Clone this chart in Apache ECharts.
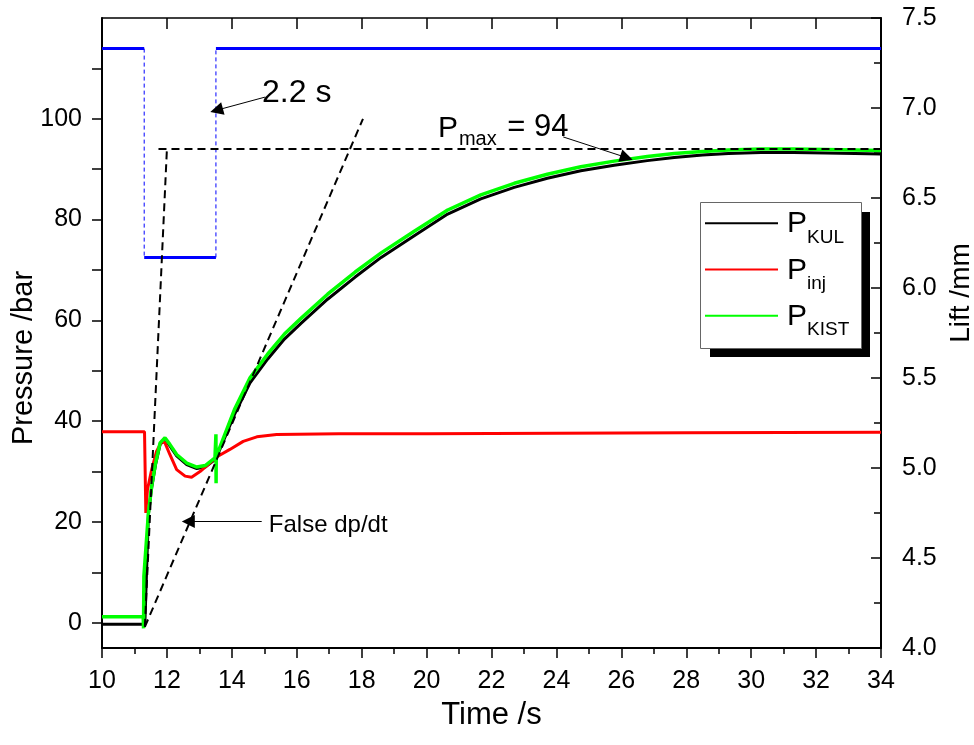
<!DOCTYPE html>
<html>
<head>
<meta charset="utf-8">
<script src="https://cdn.jsdelivr.net/npm/echarts@6/dist/echarts.min.js"></script>
<style>
  html, body { margin: 0; padding: 0; background: #fff; }
  #chart { width: 974px; height: 745px; }
</style>
</head>
<body>
<div id="chart"></div>
<script>
// Injector pressure traces: time in s, pressure in bar
const kulTime = [10, 11.32, 11.43, 11.53, 11.65, 11.79, 11.94, 12.09, 12.3, 12.61, 12.92, 13.18, 13.48, 13.56, 14.08, 14.56, 15.1, 15.62, 16.13, 16.95, 17.8, 18.6, 19.62, 20.65, 21.67, 22.7, 23.72, 24.75, 25.78, 26.8, 27.63, 28.5, 29.3, 30.3, 31.3, 32.3, 33.2, 34];
const kulP    = [-0.3, -0.3, 21.5, 26.8, 31.4, 35.4, 36.4, 35.1, 33.1, 31.4, 30.6, 30.9, 32.4, 33.3, 41.3, 47.6, 52.3, 56.3, 59.4, 64.2, 68.6, 72.5, 76.8, 81.1, 84.1, 86.4, 88.2, 89.7, 90.8, 91.7, 92.3, 92.8, 93.1, 93.3, 93.3, 93.2, 93.1, 93.0];

const injTime = [10, 11.31, 11.33, 11.35, 11.40, 11.53, 11.68, 11.84, 11.94, 12.09, 12.3, 12.56, 12.76, 13.02, 13.27, 13.53, 13.94, 14.35, 14.77, 15.38, 17.3, 20, 24, 28, 34];
const injP    = [37.9, 37.9, 30, 21.8, 26.4, 30.4, 34.0, 36.0, 35.7, 33.4, 30.4, 29.1, 28.9, 30.0, 31.4, 32.9, 34.4, 36.0, 36.9, 37.35, 37.5, 37.5, 37.6, 37.7, 37.8];

const kistTime = [10, 11.27, 11.28, 11.29, 11.43, 11.53, 11.65, 11.79, 11.94, 12.09, 12.3, 12.61, 12.92, 13.18, 13.48, 13.51, 13.515, 13.52, 13.6, 14.08, 14.56, 15.1, 15.62, 16.13, 16.95, 17.8, 18.6, 19.62, 20.65, 21.67, 22.7, 23.72, 24.75, 25.78, 26.8, 27.63, 28.5, 29.3, 30.3, 31.3, 32.3, 33.2, 34];
const kistP    = [1.2, 1.2, -1.1, 9.2, 21.8, 27.1, 31.7, 35.7, 36.7, 35.4, 33.4, 31.7, 30.9, 31.2, 32.7, 37.4, 27.7, 33.0, 34.3, 42.3, 48.6, 53.3, 57.3, 60.4, 65.2, 69.6, 73.4, 77.7, 81.9, 84.9, 87.2, 89.0, 90.5, 91.6, 92.5, 93.1, 93.5, 93.8, 94.0, 94.0, 93.9, 93.8, 93.7];

// Needle lift (mm) on the right axis
const liftTime = [10, 11.30, 11.30, 13.51, 13.51, 34];
const liftMm   = [7.33, 7.33, 6.17, 6.17, 7.33, 7.33];

// Construction lines (time, pressure)
const pmax = 94;
const pmaxLineTime = [11.74, 34];
const riseLineTime = [11.32, 12.0];
const riseLineP    = [-0.8, pmax];
const falseLineTime = [11.32, 18.04];
const falseLineP    = [-0.8, 100];

// Axis ticks
const timeTicks = [10, 12, 14, 16, 18, 20, 22, 24, 26, 28, 30, 32, 34];
const pressureLabels = [0, 20, 40, 60, 80, 100];
const pressureTicks = [0, 10, 20, 30, 40, 50, 60, 70, 80, 90, 100, 110];
const liftTicks = [4.0, 4.5, 5.0, 5.5, 6.0, 6.5, 7.0, 7.5];

const FONT = '"Liberation Sans", Arial, sans-serif';
const zip = (xs, ys) => xs.map((x, i) => [x, ys[i]]);

const chart = echarts.init(document.getElementById('chart'), null, { renderer: 'canvas' });

// Lift trace: steady segments solid, switching edges dashed
const liftSeries = [];
for (let i = 0; i < liftTime.length - 1; i++) {
  const level = liftMm[i] === liftMm[i + 1];
  liftSeries.push({
    type: 'line',
    xAxisIndex: 0,
    yAxisIndex: 1,
    data: [[liftTime[i], liftMm[i]], [liftTime[i + 1], liftMm[i + 1]]],
    showSymbol: false,
    symbol: 'none',
    silent: true,
    z: 2,
    lineStyle: level
      ? { color: '#0000ff', width: 3 }
      : { color: '#0000ff', width: 1, type: [4, 3] }
  });
}

const guide = (data) => ({
  type: 'line',
  xAxisIndex: 0,
  yAxisIndex: 0,
  data,
  showSymbol: false,
  symbol: 'none',
  silent: true,
  z: 5,
  lineStyle: { color: '#000', width: 2, type: [8, 5] }
});

const arrowEnd = { symbol: 'triangle', symbolSize: 13 };

const option = {
  animation: false,
  backgroundColor: '#fff',
  textStyle: { fontFamily: FONT, color: '#000' },
  grid: { left: 102, right: 93, top: 18, bottom: 97, containLabel: false, outerBoundsMode: 'none' },
  xAxis: [
    {
      type: 'value',
      min: 10, max: 34, interval: 2,
      name: 'Time /s',
      nameLocation: 'middle',
      nameGap: 52,
      nameTextStyle: { fontSize: 31, fontFamily: FONT, color: '#000' },
      axisLine: { show: true, onZero: false, lineStyle: { color: '#000', width: 2 } },
      axisTick: { show: true, inside: false, length: 10, lineStyle: { color: '#000', width: 1.5 }, customValues: timeTicks },
      minorTick: { show: true, splitNumber: 2, length: 6, lineStyle: { color: '#000', width: 1.5 } },
      axisLabel: { fontSize: 25, fontFamily: FONT, color: '#000', margin: 21, customValues: timeTicks },
      splitLine: { show: false }
    },
    {
      type: 'value',
      position: 'top',
      min: 10, max: 34, interval: 2,
      axisLine: { show: true, onZero: false, lineStyle: { color: '#000', width: 1.5 } },
      axisTick: { show: true, inside: true, length: 11, lineStyle: { color: '#000', width: 1.5 } },
      axisLabel: { show: false },
      splitLine: { show: false }
    }
  ],
  yAxis: [
    {
      type: 'value',
      min: -5, max: 120,
      name: 'Pressure /bar',
      nameLocation: 'middle',
      nameGap: 64,
      nameMoveOverlap: false,
      nameTextStyle: { fontSize: 29, fontFamily: FONT, color: '#000', padding: [0, 50, 0, 0] },
      axisLine: { show: true, onZero: false, lineStyle: { color: '#000', width: 2 } },
      axisTick: { show: true, inside: false, length: 10, lineStyle: { color: '#000', width: 1.5 }, customValues: pressureTicks },
      axisLabel: { fontSize: 25, fontFamily: FONT, color: '#000', margin: 20, customValues: pressureLabels },
      splitLine: { show: false }
    },
    {
      type: 'value',
      position: 'right',
      min: 4, max: 7.5, interval: 0.5,
      name: 'Lift /mm',
      nameLocation: 'middle',
      nameGap: 66,
      nameTextStyle: { fontSize: 28, fontFamily: FONT, color: '#000', padding: [0, 0, 0, 80] },
      axisLine: { show: true, onZero: false, lineStyle: { color: '#000', width: 2 } },
      axisTick: { show: true, inside: true, length: 10, lineStyle: { color: '#000', width: 1.5 }, customValues: liftTicks },
      minorTick: { show: true, splitNumber: 2, length: 7, lineStyle: { color: '#000', width: 1.5 } },
      axisLabel: { fontSize: 25, fontFamily: FONT, color: '#000', margin: 21, customValues: liftTicks,
                   formatter: (v) => v.toFixed(1) },
      splitLine: { show: false }
    }
  ],
  legend: {
    data: ['P_KUL', 'P_inj', 'P_KIST'],
    orient: 'vertical',
    left: 705,
    top: 209,
    padding: 0,
    itemGap: 8.5,
    itemWidth: 73,
    itemHeight: 2,
    icon: 'rect',
    selectedMode: false,
    z: 10,
    formatter: (name) => '{p|P}{s|' + name.split('_')[1] + '}',
    textStyle: {
      fontFamily: FONT,
      color: '#000',
      rich: {
        p: { fontSize: 30, height: 30, lineHeight: 28.4, verticalAlign: 'top', padding: [0, 0, 0, 4], fontFamily: FONT, color: '#000' },
        s: { fontSize: 19, height: 19, lineHeight: 19, verticalAlign: 'top', padding: [18.8, 0, 0, 0], fontFamily: FONT, color: '#000' }
      }
    }
  },
  graphic: [
    { type: 'rect', z: 8, shape: { x: 710, y: 212, width: 160, height: 145 }, style: { fill: '#000' }, silent: true },
    { type: 'rect', z: 9, shape: { x: 700.5, y: 202.5, width: 161, height: 146 }, style: { fill: '#fff', stroke: '#666', lineWidth: 1 }, silent: true }
  ],
  series: [
    ...liftSeries,
    {
      name: 'P_KUL',
      type: 'line',
      xAxisIndex: 0, yAxisIndex: 0,
      data: zip(kulTime, kulP),
      showSymbol: false, symbol: 'none', silent: true, z: 3,
      color: '#000000',
      lineStyle: { color: '#000000', width: 3 }
    },
    {
      name: 'P_inj',
      type: 'line',
      xAxisIndex: 0, yAxisIndex: 0,
      data: zip(injTime, injP),
      showSymbol: false, symbol: 'none', silent: true, z: 3,
      color: '#ff0000',
      lineStyle: { color: '#ff0000', width: 3 }
    },
    {
      name: 'P_KIST',
      type: 'line',
      xAxisIndex: 0, yAxisIndex: 0,
      data: zip(kistTime, kistP),
      showSymbol: false, symbol: 'none', silent: true, z: 3,
      color: '#00ff00',
      lineStyle: { color: '#00ff00', width: 3.5 }
    },
    guide(zip(pmaxLineTime, [pmax, pmax])),
    guide(zip(riseLineTime, riseLineP)),
    guide(zip(falseLineTime, falseLineP)),
    {
      type: 'line',
      xAxisIndex: 0, yAxisIndex: 0,
      data: [],
      silent: true,
      z: 6,
      markLine: {
        silent: true,
        symbol: ['none', 'triangle'],
        symbolSize: 13,
        label: { show: false },
        lineStyle: { color: '#000', width: 1, type: 'solid' },
        emphasis: { disabled: true },
        data: [
          [{ coord: [15.02, 104.3], symbol: 'none' }, { coord: [13.53, 101.7], ...arrowEnd }],
          [{ coord: [24.21, 96.4], symbol: 'none' }, { coord: [26.16, 92.3], ...arrowEnd }],
          [{ coord: [14.92, 20.1], symbol: 'none' }, { coord: [12.66, 20.1], ...arrowEnd }]
        ]
      },
      markPoint: {
        silent: true,
        symbol: 'circle',
        symbolSize: 0,
        data: [
          { coord: [14.93, 105.0], label: { show: true, position: 'right', distance: 0, formatter: '2.2 s',
              fontSize: 32, fontFamily: FONT, color: '#000' } },
          { coord: [20.35, 98.1], label: { show: true, position: 'right', distance: 0,
              formatter: '{p|P}{s|max}{q| = ' + pmax + '}',
              rich: {
                p: { fontSize: 30, lineHeight: 30, verticalAlign: 'top', fontFamily: FONT, color: '#000' },
                q: { fontSize: 31, lineHeight: 30, verticalAlign: 'top', padding: [-1, 0, 0, 2], fontFamily: FONT, color: '#000' },
                s: { fontSize: 20, lineHeight: 20, verticalAlign: 'top', padding: [16, 0, 0, 1], fontFamily: FONT, color: '#000' }
              } } },
          { coord: [15.14, 19.3], label: { show: true, position: 'right', distance: 0, formatter: 'False dp/dt',
              fontSize: 24, fontFamily: FONT, color: '#000' } }
        ]
      }
    }
  ]
};

chart.setOption(option);
</script>
</body>
</html>
